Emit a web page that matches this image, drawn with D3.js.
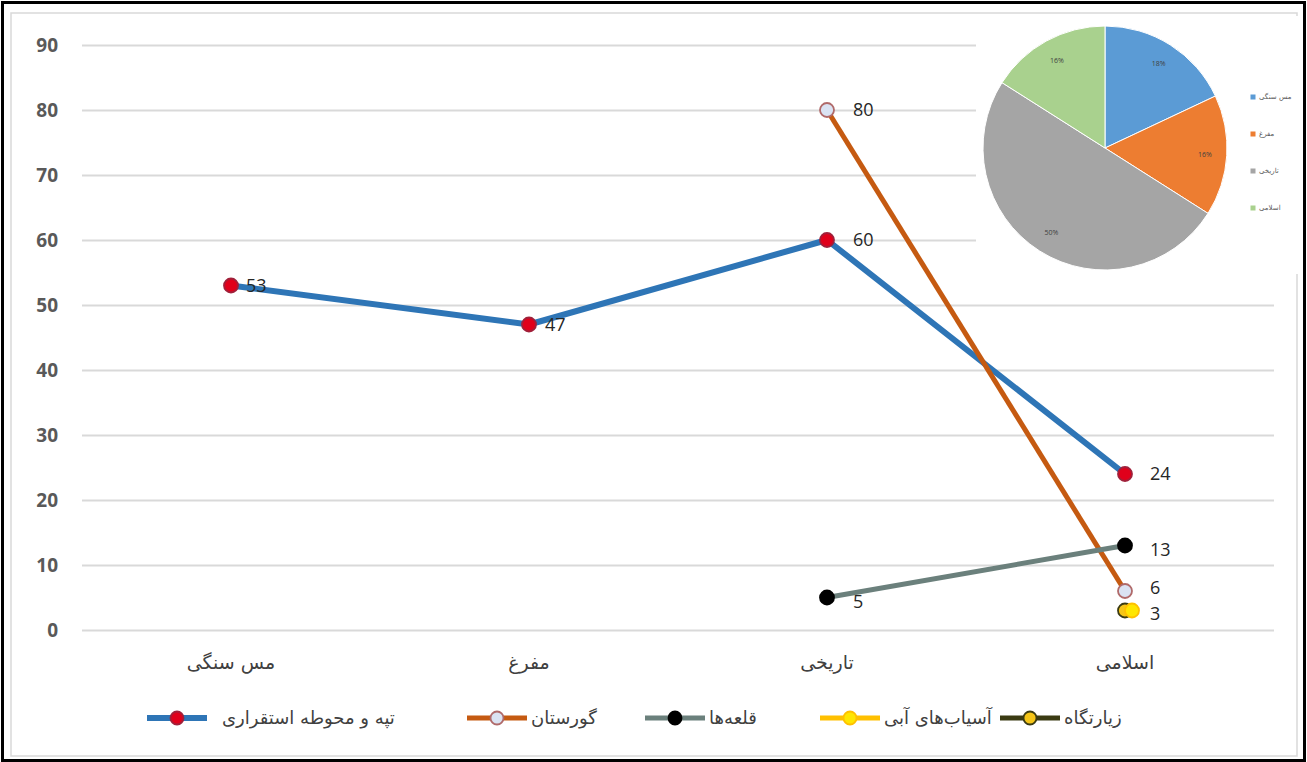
<!DOCTYPE html>
<html>
<head>
<meta charset="utf-8">
<script src="https://cdn.jsdelivr.net/npm/d3@7"></script>
<style>
  body { margin: 0; background: #ffffff; }
  svg { display: block; }
</style>
</head>
<body>
<div id="chart"></div>
<script>
// categories (periods) on the x axis
const categories = ["مس سنگی", "مفرغ", "تاریخی", "اسلامی"];
const yTicks = [0, 10, 20, 30, 40, 50, 60, 70, 80, 90];

// series values (null = no point)
const seriesNames = ["تپه و محوطه استقراری", "گورستان", "قلعه‌ها", "آسیاب‌های آبی", "زیارتگاه"];
const tepeValues = [53, 47, 60, 24];
const gorestanValues = [null, null, 80, 6];
const ghalehValues = [null, null, 5, 13];
const asiabValues = [null, null, null, 3];
const ziaratValues = [null, null, null, 3];

// inset pie
const pieLabels = ["مس سنگی", "مفرغ", "تاریخی", "اسلامی"];
const pieValues = [18, 16, 50, 16];

const width = 1307;
const height = 762;
const plot = {left: 82, right: 1274, top: 45, bottom: 630};

const svg = d3.select("#chart")
    .append("svg")
    .attr("width", width)
    .attr("height", height);

// frames
svg.append("rect")
    .attr("x", 2.5).attr("y", 2.5)
    .attr("width", width - 5).attr("height", height - 4)
    .attr("fill", "#ffffff")
    .attr("stroke", "#000000")
    .attr("stroke-width", 3);
svg.append("rect")
    .attr("x", 11).attr("y", 13)
    .attr("width", 1286).attr("height", 743)
    .attr("fill", "none")
    .attr("stroke", "#d9d9d9")
    .attr("stroke-width", 1.5);

let xScale = d3.scaleBand()
    .domain(categories)
    .range([plot.left, plot.right]);

function xPos(i) {
    return xScale(categories[i]) + xScale.bandwidth() / 2;
}

let yScale = d3.scaleLinear()
    .domain([0, 90])
    .range([plot.bottom, plot.top]);

// grid
svg.append("g")
    .attr("class", "grid")
    .attr("transform", "translate(" + plot.left + ",0)")
    .call(d3.axisRight(yScale)
        .tickValues(yTicks)
        .tickSize(plot.right - plot.left)
        .tickFormat(""))
    .call(g => g.select(".domain").remove())
    .call(g => g.selectAll("line").attr("stroke", "#d9d9d9").attr("stroke-width", 2));

// y axis labels
svg.append("g")
    .attr("class", "yAxis")
    .attr("transform", "translate(58,0)")
    .call(d3.axisLeft(yScale).tickValues(yTicks).tickSize(0).tickPadding(0))
    .call(g => g.select(".domain").remove())
    .call(g => g.selectAll("text")
        .attr("fill", "#595959")
        .style("font-family", "'Open Sans', sans-serif")
        .style("font-weight", "700")
        .style("font-size", "19px"));

// x axis labels
svg.append("g")
    .attr("class", "xAxis")
    .selectAll("text")
    .data(categories)
    .enter()
    .append("text")
    .attr("x", (d, i) => xPos(i))
    .attr("y", 662)
    .attr("dy", "0.35em")
    .attr("text-anchor", "middle")
    .attr("fill", "#404040")
    .style("font-family", "'DejaVu Sans', sans-serif")
    .style("font-size", "19px")
    .text(d => d);

// white panel behind the inset pie
svg.append("rect")
    .attr("x", 976).attr("y", 16)
    .attr("width", 322).attr("height", 258)
    .attr("fill", "#ffffff");

const series = [
    {name: seriesNames[0], values: tepeValues, color: "#2e75b6", width: 6, fill: "#e0001b", stroke: "#a0203a"},
    {name: seriesNames[1], values: gorestanValues, color: "#c55a11", width: 5, fill: "#dae3f3", stroke: "#b06a6a"},
    {name: seriesNames[2], values: ghalehValues, color: "#6b807c", width: 5, fill: "#000000", stroke: "#000000"},
    {name: seriesNames[3], values: asiabValues, color: "#ffc000", width: 5, fill: "#ffe600", stroke: "#ffc000"},
    {name: seriesNames[4], values: ziaratValues, color: "#3b3b12", width: 5, fill: "#f5c518", stroke: "#3b3b12"}
];

// small horizontal nudge for the overlapping last markers
const markerDx = [0, 0, 0, 7, 0];
const labelDx = [15, 16, 26, 25];

let line = d3.line()
    .defined(d => d.v !== null)
    .x(d => xPos(d.i))
    .y(d => yScale(d.v));

series.forEach(function (s) {
    let pts = s.values.map((v, i) => ({v: v, i: i}));
    svg.append("path")
        .datum(pts)
        .attr("fill", "none")
        .attr("stroke", s.color)
        .attr("stroke-width", s.width)
        .attr("stroke-linejoin", "round")
        .attr("d", line);
});

// markers drawn so the last series sits underneath
[4, 3, 2, 1, 0].forEach(function (k) {
    let s = series[k];
    let pts = s.values.map((v, i) => ({v: v, i: i})).filter(d => d.v !== null);
    svg.append("g")
        .selectAll("circle")
        .data(pts)
        .enter()
        .append("circle")
        .attr("cx", d => xPos(d.i) + markerDx[k])
        .attr("cy", d => yScale(d.v))
        .attr("r", 7)
        .attr("fill", s.fill)
        .attr("stroke", s.stroke)
        .attr("stroke-width", 1.8);
});

// data labels (the close 6 / 3 pair is pulled slightly apart)
const labelDy = [0, -3, 4, 3];
[0, 1, 2, 3].forEach(function (k) {
    let s = series[k];
    let pts = s.values.map((v, i) => ({v: v, i: i})).filter(d => d.v !== null);
    svg.append("g")
        .selectAll("text")
        .data(pts)
        .enter()
        .append("text")
        .attr("x", d => xPos(d.i) + labelDx[d.i])
        .attr("y", d => yScale(d.v) + (d.i === 3 || (k === 2 && d.i === 2) ? labelDy[k] : 0))
        .attr("dy", "0.36em")
        .attr("fill", "#262626")
        .style("font-family", "'Open Sans', sans-serif")
        .style("font-size", "18px")
        .text(d => d.v);
});

// legend
const legendX = [147, 467, 645, 820, 1000];
const legendY = 718;
let legend = svg.append("g").attr("class", "legend");
series.forEach(function (s, k) {
    let g = legend.append("g").attr("transform", "translate(" + legendX[k] + "," + legendY + ")");
    g.append("line")
        .attr("x1", 0).attr("x2", 60)
        .attr("stroke", s.color)
        .attr("stroke-width", s.width);
    g.append("circle")
        .attr("cx", 30).attr("r", 6.5)
        .attr("fill", s.fill)
        .attr("stroke", s.stroke)
        .attr("stroke-width", 1.8);
    g.append("text")
        .attr("x", k === 0 ? 75 : 64)
        .attr("dy", "0.35em")
        .attr("fill", "#404040")
        .style("font-family", "'DejaVu Sans', sans-serif")
        .style("font-size", "18px")
        .text(s.name);
});

// inset pie
const pieColors = ["#5b9bd5", "#ed7d31", "#a5a5a5", "#a9d18e"];
const pieCenter = {x: 1105, y: 148};
const pieR = 122;

let pie = d3.pie().sort(null).value(d => d);
let arc = d3.arc().innerRadius(0).outerRadius(pieR);
let labelArc = d3.arc().innerRadius(pieR * 0.82).outerRadius(pieR * 0.82);

let pieG = svg.append("g")
    .attr("transform", "translate(" + pieCenter.x + "," + pieCenter.y + ")");
let arcs = pie(pieValues);
pieG.selectAll("path")
    .data(arcs)
    .enter()
    .append("path")
    .attr("d", arc)
    .attr("fill", (d, i) => pieColors[i])
    .attr("stroke", "#ffffff")
    .attr("stroke-width", 1);
pieG.selectAll("text")
    .data(arcs)
    .enter()
    .append("text")
    .attr("transform", d => "translate(" + labelArc.centroid(d) + ")")
    .attr("text-anchor", "middle")
    .attr("dy", "0.35em")
    .attr("fill", "#404040")
    .style("font-family", "'Open Sans', sans-serif")
    .style("font-size", "7px")
    .text(d => d.data + "%");

let pieLegend = svg.append("g")
    .attr("transform", "translate(1253,97)");
pieLabels.forEach(function (lbl, i) {
    let g = pieLegend.append("g").attr("transform", "translate(0," + (i * 37) + ")");
    g.append("rect")
        .attr("x", -2.5).attr("y", -2.5)
        .attr("width", 5).attr("height", 5)
        .attr("fill", pieColors[i]);
    g.append("text")
        .attr("x", 6)
        .attr("dy", "0.35em")
        .attr("fill", "#595959")
        .style("font-family", "'DejaVu Sans', sans-serif")
        .style("font-size", "7px")
        .text(lbl);
});
</script>
</body>
</html>
